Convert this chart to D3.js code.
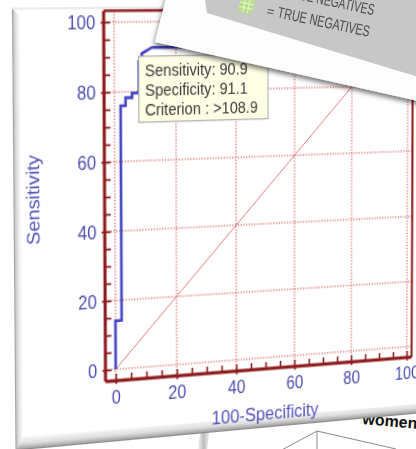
<!DOCTYPE html>
<html>
<head>
<meta charset="utf-8">
<script src="https://cdn.jsdelivr.net/npm/d3@7"></script>
<style>
  html, body { margin: 0; padding: 0; background: #fff; overflow: hidden; }
  #stage { position: relative; width: 416px; height: 449px; overflow: hidden; background: #fff; }
  #stage svg { position: absolute; left: 0; top: 0; }
  #card { transform-origin: 0 0; }
</style>
</head>
<body>
<div id="stage"></div>
<script>
// ROC curve (100-Specificity, Sensitivity)
const fpr = [0, 0, 2.0, 2.0, 3.6, 3.6, 5.7, 5.7, 7.9, 7.9, 8.9, 8.9, 12.2, 23, 23, 35, 35, 100];
const tpr = [0, 14.1, 14.1, 76.0, 76.0, 78.3, 78.3, 79.6, 79.6, 88.6, 88.6, 90.9, 92.6, 92.6, 95.5, 95.5, 100, 100];
const majorTicks = [0, 20, 40, 60, 80, 100];
const minorTicks = d3.range(0, 101, 5);
const tipLines = ["Sensitivity: 90.9", "Specificity: 91.1", "Criterion : >108.9"];
const legendLines = ["FALSE NEGATIVES", "TRUE NEGATIVES"];
const xTitle = "100-Specificity", yTitle = "Sensitivity";

const stage = d3.select("#stage");
const font = "'Liberation Sans', Arial, sans-serif";

// ---------- layer under the card (other pages) ----------
const under = stage.append("svg").attr("width", 416).attr("height", 449);
const ud = under.append("defs");
const eg = ud.append("linearGradient").attr("id", "edge").attr("x1", 0).attr("x2", 1);
eg.append("stop").attr("offset", 0).attr("stop-color", "#fff");
eg.append("stop").attr("offset", 0.5).attr("stop-color", "#bdbdbd");
eg.append("stop").attr("offset", 1).attr("stop-color", "#f4f4f4");
under.append("polygon").attr("points", "197,449 201,430 210,430 207,449").attr("fill", "url(#edge)");
const box = under.append("g").attr("stroke", "#8a8a8a").attr("stroke-width", 1).attr("fill", "none");
box.append("line").attr("x1", 317).attr("y1", 431).attr("x2", 278).attr("y2", 452);
box.append("line").attr("x1", 317).attr("y1", 431).attr("x2", 396).attr("y2", 449);
box.append("line").attr("x1", 317).attr("y1", 431).attr("x2", 317).attr("y2", 452);
under.append("text").attr("transform", "translate(362,424) rotate(5)")
  .attr("font-family", font).attr("font-weight", "bold").attr("font-size", 16)
  .attr("fill", "#111").text("women");

// ---------- the chart card, drawn flat, then put in perspective ----------
const W0 = 620, H0 = 400;
const OX = 120, OY = 20, S = 300;
const x = d3.scaleLinear().domain([0, 100]).range([OX, OX + S]);
const y = d3.scaleLinear().domain([0, 100]).range([OY + S, OY]);
const fl = x(-3.3), fr = x(101.8), fb = y(-3.3), ft = y(103.2);

// unit square -> quad (Heckbert)
function sq2quad(p) {
  const [x0, y0] = p[0], [x1, y1] = p[1], [x2, y2] = p[2], [x3, y3] = p[3];
  const dx1 = x1 - x2, dx2 = x3 - x2, dx3 = x0 - x1 + x2 - x3;
  const dy1 = y1 - y2, dy2 = y3 - y2, dy3 = y0 - y1 + y2 - y3;
  const den = dx1 * dy2 - dx2 * dy1;
  const g = (dx3 * dy2 - dx2 * dy3) / den, h = (dx1 * dy3 - dx3 * dy1) / den;
  return [[x1 - x0 + g * x1, x3 - x0 + h * x3, x0],
          [y1 - y0 + g * y1, y3 - y0 + h * y3, y0],
          [g, h, 1]];
}
// where the data corners land on screen: (0,100) (100,100) (100,0) (0,0)
const M = sq2quad([[114, 22], [408, 19.5], [406.7, 346.7], [115.7, 369.3]]);
const A = M.map(r => [r[0] / S, r[1] / S, r[2] - r[0] * OX / S - r[1] * OY / S]);
const m3d = `matrix3d(${A[0][0]},${A[1][0]},0,${A[2][0]},${A[0][1]},${A[1][1]},0,${A[2][1]},0,0,1,0,${A[0][2]},${A[1][2]},0,${A[2][2]})`;

const svg = stage.append("svg").attr("id", "card")
  .attr("width", W0).attr("height", H0)
  .style("transform", m3d);
const defs = svg.append("defs");
const lg = defs.append("linearGradient").attr("id", "bevL").attr("x1", 0).attr("x2", 1);
lg.append("stop").attr("offset", 0).attr("stop-color", "#8e8e8e");
lg.append("stop").attr("offset", 0.2).attr("stop-color", "#c9c9c9");
lg.append("stop").attr("offset", 0.6).attr("stop-color", "#e8e8e8");
lg.append("stop").attr("offset", 1).attr("stop-color", "#fbfbfb");
const bg = defs.append("linearGradient").attr("id", "bevB").attr("x1", 0).attr("x2", 0).attr("y1", 0).attr("y2", 1);
bg.append("stop").attr("offset", 0).attr("stop-color", "#f7f7f7");
bg.append("stop").attr("offset", 0.5).attr("stop-color", "#dedede");
bg.append("stop").attr("offset", 0.85).attr("stop-color", "#ababab");
bg.append("stop").attr("offset", 1).attr("stop-color", "#7e7e7e");

const cardL = 24, cardT = 8, cardB = 383;
svg.append("rect").attr("x", cardL).attr("y", cardT).attr("width", W0 - cardL).attr("height", cardB - cardT).attr("fill", "#fff");
svg.append("polygon").attr("points", [[cardL, cardT], [cardL + 7, cardT + 6], [cardL + 7, cardB - 11], [cardL, cardB]].join(" "))
  .attr("fill", "url(#bevL)");
svg.append("polygon").attr("points", [[cardL, cardB], [cardL + 7, cardB - 11], [W0, cardB - 8], [W0, cardB]].join(" "))
  .attr("fill", "url(#bevB)");
svg.append("line").attr("x1", cardL).attr("x2", W0).attr("y1", cardT).attr("y2", cardT).attr("stroke", "#d8d8d8");

// grid
const red = "#8e1b1b", grid = "#d23c3c";
const gg = svg.append("g").attr("stroke", grid).attr("stroke-width", 1).attr("stroke-dasharray", "1.2,1.6").attr("fill", "none");
majorTicks.forEach(t => {
  gg.append("line").attr("x1", x(t)).attr("x2", x(t)).attr("y1", ft).attr("y2", fb);
  gg.append("line").attr("x1", fl).attr("x2", fr).attr("y1", y(t)).attr("y2", y(t));
});
svg.append("line").attr("x1", x(0)).attr("y1", y(0)).attr("x2", x(100)).attr("y2", y(100))
  .attr("stroke", "#e07676").attr("stroke-width", 1);

// axes: minor ticks inside, major ticks across, labels outside
const blue = "#4b4bb0";
function styleAxis(g) {
  g.select(".domain").remove();
  g.selectAll("line").attr("stroke", red).attr("stroke-width", 1.6);
  g.selectAll("text").attr("fill", blue).attr("font-family", font).attr("font-size", 16);
}
svg.append("g").attr("transform", `translate(${fl},0)`)
  .call(d3.axisLeft(y).tickValues(minorTicks).tickSize(-6).tickFormat("")).call(styleAxis);
svg.append("g").attr("transform", `translate(${fl},0)`)
  .call(d3.axisLeft(y).tickValues(majorTicks).tickSize(3).tickPadding(5)).call(styleAxis);
svg.append("g").attr("transform", `translate(0,${fb})`)
  .call(d3.axisBottom(x).tickValues(minorTicks).tickSize(-6).tickFormat("")).call(styleAxis);
svg.append("g").attr("transform", `translate(0,${fb})`)
  .call(d3.axisBottom(x).tickValues(majorTicks).tickSize(3).tickPadding(6)).call(styleAxis);

// frame
svg.append("line").attr("x1", fl).attr("x2", fl).attr("y1", ft).attr("y2", fb).attr("stroke", red).attr("stroke-width", 3);
svg.append("line").attr("x1", fl).attr("x2", fr).attr("y1", fb).attr("y2", fb).attr("stroke", red).attr("stroke-width", 3);
svg.append("line").attr("x1", fl).attr("x2", fr).attr("y1", ft).attr("y2", ft).attr("stroke", red).attr("stroke-width", 2.2);
svg.append("line").attr("x1", fr).attr("x2", fr).attr("y1", ft).attr("y2", fb).attr("stroke", red).attr("stroke-width", 2.2);

// ROC curve
const line = d3.line().x(i => x(fpr[i])).y(i => y(tpr[i]));
svg.append("path").attr("d", line(d3.range(fpr.length)))
  .attr("fill", "none").attr("stroke", "#4747c6").attr("stroke-width", 2.6).attr("stroke-linejoin", "miter");

// titles
svg.append("text").attr("transform", `translate(${fl - 62},${y(50)}) rotate(-90)`)
  .attr("text-anchor", "middle").attr("font-family", font).attr("font-size", 17).attr("fill", "#5252ba").text(yTitle);
svg.append("text").attr("x", x(50)).attr("y", fb + 46)
  .attr("text-anchor", "middle").attr("font-family", font).attr("font-size", 17).attr("fill", "#5252ba").text(xTitle);

// tooltip
const tip = svg.append("g").attr("transform", `translate(${x(7.9)},${y(90.1)})`);
tip.append("rect").attr("width", 129).attr("height", 57).attr("fill", "#ffffe6").attr("stroke", "#a3a3a3").attr("stroke-width", 1);
tip.selectAll("text").data(tipLines).join("text")
  .attr("x", 6).attr("y", (d, i) => 17 + i * 17.4)
  .attr("font-family", font).attr("font-size", 14.6).attr("fill", "#3a3a3a").text(d => d);

// ---------- page lying on top (legend sheet) ----------
const over = stage.append("svg").attr("width", 416).attr("height", 449);
const od = over.append("defs");
const f = od.append("filter").attr("id", "sh").attr("x", -0.2).attr("y", -0.2).attr("width", 1.4).attr("height", 1.6);
f.append("feDropShadow").attr("dx", -1).attr("dy", 3).attr("stdDeviation", 2.5).attr("flood-color", "#000").attr("flood-opacity", 0.55);
over.append("polygon").attr("points", "167,-6 155,42 432,104 432,-6").attr("fill", "#fdfdfd").attr("filter", "url(#sh)");
over.append("polygon").attr("points", "204,-6 207,13 432,81 432,-6").attr("fill", "#c7c7c7");
const leg = over.append("g").attr("transform", "translate(266,15) rotate(12)")
  .attr("font-family", font).attr("fill", "#4a4a4a");
legendLines.forEach((t, i) => {
  const yy = (i - 1) * 22;
  leg.append("text").attr("x", 0).attr("y", yy).attr("font-size", 13).text("=");
  leg.append("text").attr("x", 11).attr("y", yy).attr("font-size", 15.5)
    .attr("textLength", 94).attr("lengthAdjust", "spacingAndGlyphs").text(t);
  const ic = leg.append("g").attr("transform", `translate(-28,${yy - 12})`);
  ic.append("rect").attr("width", 14).attr("height", 14).attr("fill", i === 1 ? "#b6df86" : "#f2c27a");
  [4.7, 9.3].forEach(k => {
    ic.append("line").attr("x1", k).attr("x2", k).attr("y1", 0).attr("y2", 14).attr("stroke", "#e8f5d8").attr("stroke-width", 1);
    ic.append("line").attr("y1", k).attr("y2", k).attr("x1", 0).attr("x2", 14).attr("stroke", "#e8f5d8").attr("stroke-width", 1);
  });
});
</script>
</body>
</html>
